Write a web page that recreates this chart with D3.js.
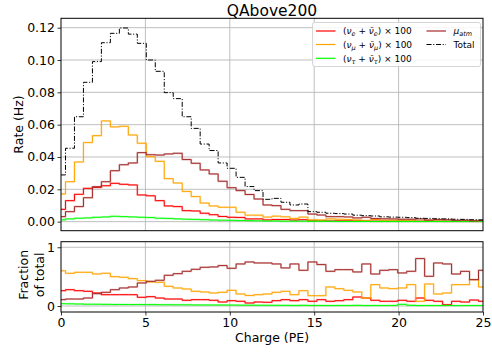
<!DOCTYPE html>
<html>
<head>
<meta charset="utf-8">
<script src="https://cdn.jsdelivr.net/npm/d3@7"></script>
<style>
  html, body { margin: 0; padding: 0; background: #fff; }
  svg { display: block; font-family: "DejaVu Sans", sans-serif; }
</style>
</head>
<body>
<svg id="chart" width="492" height="353"></svg>
<script>
// Charge bin centres (PE): 48 evenly spaced values from 0 to 25
const nBins = 48;
const charge = d3.range(nBins).map(i => i * 25 / (nBins - 1));

// Rates (Hz); neutrino rates are shown scaled by 100
const nueRate = [0.0076,0.0130,0.0169,0.0206,0.0212,0.0222,0.0237,0.0231,0.0227,0.0165,
  0.0160,0.0130,0.0097,0.0093,0.0068,0.0066,0.0052,0.0043,0.0032,0.0027,
  0.0026,0.0017,0.0017,0.0011,0.0013,0.0013,0.0010,0.0012,0.0005,0.0006,
  0.0004,0.0005,0.0005,0.0006,0.0005,0.0003,0.0003,0.0002,0.0003,0.0002,
  0.0003,0.0002,0.0002,0.0001,0.0001,0.0001,0.0001,0.0001];
const numuRate = [0.0171,0.0247,0.0369,0.0489,0.0532,0.0623,0.0586,0.0590,0.0536,0.0485,
  0.0402,0.0373,0.0266,0.0239,0.0187,0.0155,0.0115,0.0097,0.0089,0.0089,
  0.0058,0.0040,0.0040,0.0028,0.0034,0.0030,0.0020,0.0028,0.0011,0.0010,
  0.0017,0.0015,0.0013,0.0010,0.0005,0.0013,0.0009,0.0008,0.0008,0.0009,
  0.0002,0.0008,0.0004,0.0004,0.0005,0.0005,0.0005,0.0004];
const nutauRate = [0.0011,0.0017,0.0021,0.0023,0.0027,0.0029,0.0033,0.0031,0.0029,0.0027,
  0.0025,0.0021,0.0020,0.0017,0.0015,0.0014,0.0012,0.0010,0.0009,0.0008,
  0.0007,0.0006,0.0005,0.0004,0.0004,0.0003,0.0003,0.0003,0.0002,0.0002,
  0.0002,0.0001,0.0001,0.0001,0.0001,0.0001,0.0001,0.0001,0.0001,0.0001,
  0.0001,0.0001,0.0001,0.0001,0.0001,0.0001,0.0001,0.0001];
const muAtmRate = [0.0031,0.0062,0.0093,0.0148,0.0216,0.0247,0.0315,0.0352,0.0363,0.0427,
  0.0414,0.0412,0.0419,0.0423,0.0384,0.0361,0.0320,0.0295,0.0250,0.0210,
  0.0192,0.0168,0.0140,0.0103,0.0099,0.0076,0.0068,0.0068,0.0047,0.0041,
  0.0031,0.0031,0.0029,0.0023,0.0027,0.0019,0.0018,0.0017,0.0015,0.0015,
  0.0017,0.0010,0.0013,0.0012,0.0008,0.0009,0.0005,0.0007];
const totalRate = [0.0289,0.0454,0.0649,0.0862,0.0990,0.1107,0.1165,0.1198,0.1160,0.1103,
  0.1000,0.0930,0.0798,0.0761,0.0649,0.0577,0.0480,0.0440,0.0363,0.0330,
  0.0274,0.0217,0.0192,0.0138,0.0144,0.0120,0.0103,0.0109,0.0062,0.0058,
  0.0052,0.0050,0.0047,0.0040,0.0037,0.0035,0.0030,0.0028,0.0027,0.0025,
  0.0021,0.0020,0.0018,0.0017,0.0015,0.0014,0.0012,0.0011];

// Fraction of the total rate per bin
const nueFrac = [0.261,0.278,0.261,0.250,0.222,0.193,0.193,0.193,0.193,0.148,
  0.159,0.136,0.119,0.119,0.097,0.108,0.108,0.097,0.068,0.091,
  0.080,0.051,0.068,0.063,0.091,0.108,0.091,0.108,0.080,0.108,
  0.080,0.091,0.108,0.153,0.136,0.097,0.080,0.080,0.097,0.080,
  0.136,0.097,0.080,0.023,0.080,0.068,0.102,0.080];
const numuFrac = [0.600,0.557,0.574,0.574,0.546,0.557,0.500,0.489,0.466,0.432,
  0.410,0.403,0.335,0.307,0.290,0.250,0.239,0.222,0.233,0.267,
  0.205,0.180,0.193,0.205,0.233,0.250,0.193,0.261,0.176,0.176,
  0.324,0.295,0.267,0.239,0.136,0.364,0.307,0.295,0.307,0.364,
  0.080,0.375,0.205,0.222,0.364,0.364,0.449,0.324];
const nutauFrac = [0.040,0.037,0.034,0.030,0.030,0.028,0.027,0.026,0.025,0.025,
  0.024,0.023,0.022,0.021,0.020,0.019,0.018,0.017,0.017,0.016,
  0.015,0.014,0.013,0.012,0.012,0.011,0.010,0.012,0.009,0.010,
  0.008,0.010,0.009,0.011,0.008,0.010,0.009,0.010,0.028,0.012,
  0.008,0.009,0.008,0.010,0.007,0.008,0.009,0.008];
const muAtmFrac = [0.108,0.119,0.119,0.136,0.210,0.233,0.278,0.307,0.324,0.392,
  0.420,0.438,0.523,0.551,0.591,0.625,0.659,0.665,0.688,0.642,
  0.716,0.750,0.733,0.733,0.716,0.648,0.716,0.608,0.750,0.705,
  0.591,0.619,0.619,0.580,0.716,0.545,0.608,0.619,0.563,0.591,
  0.807,0.506,0.733,0.716,0.545,0.590,0.449,0.608];

const rateTicks = [0, 0.02, 0.04, 0.06, 0.08, 0.10, 0.12];
const fracTicks = [0, 1];
const chargeTicks = [0, 5, 10, 15, 20, 25];

const colors = { nue: "#ff0000", numu: "#ffa500", nutau: "#00ff00", mu: "#a52a2a", total: "#000000" };

const svg = d3.select("#chart");
const left = 61, right = 483;
const top1 = 18.3, bot1 = 230.7;
const top2 = 241.7, bot2 = 312;

const x = d3.scaleLinear().domain([0, 25]).range([left, right]);
const yRate = d3.scaleLinear().domain([-0.0056, 0.1258]).range([bot1, top1]);
const yFrac = d3.scaleLinear().domain([-0.102, 1.095]).range([bot2, top2]);

const gridColor = "#b8b8b8";

function panel(y, ticks, fmt, top, bot, showX) {
  const g = svg.append("g");
  // grid
  g.append("g").selectAll("line").data([5, 10, 15, 20]).join("line")
    .attr("x1", d => x(d)).attr("x2", d => x(d))
    .attr("y1", top).attr("y2", bot)
    .attr("stroke", gridColor).attr("stroke-width", 0.9);
  g.append("g").selectAll("line").data(ticks).join("line")
    .attr("x1", left).attr("x2", right)
    .attr("y1", d => y(d)).attr("y2", d => y(d))
    .attr("stroke", gridColor).attr("stroke-width", 0.9);
  // y axis
  const ya = d3.axisLeft(y).tickValues(ticks).tickFormat(fmt).tickSize(3.5).tickPadding(2.5);
  const yg = g.append("g").attr("transform", `translate(${left},0)`).call(ya);
  yg.select(".domain").remove();
  yg.selectAll("text").attr("font-size", 12.5).attr("fill", "#000").attr("font-family", "DejaVu Sans");
  yg.selectAll("line").attr("stroke", "#000").attr("stroke-width", 0.8);
  if (showX) {
    const xa = d3.axisBottom(x).tickValues(chargeTicks).tickFormat(d3.format("d")).tickSize(3.5).tickPadding(2.5);
    const xg = g.append("g").attr("transform", `translate(0,${bot})`).call(xa);
    xg.select(".domain").remove();
    xg.selectAll("text").attr("font-size", 12.5).attr("fill", "#000").attr("font-family", "DejaVu Sans");
    xg.selectAll("line").attr("stroke", "#000").attr("stroke-width", 0.8);
  }
  return g;
}

function frame(top, bot) {
  svg.append("rect").attr("x", left).attr("y", top)
    .attr("width", right - left).attr("height", bot - top)
    .attr("fill", "none").attr("stroke", "#000").attr("stroke-width", 1);
}

panel(yRate, rateTicks, d3.format(".2f"), top1, bot1, false);
panel(yFrac, fracTicks, d3.format("d"), top2, bot2, true);

function stepLine(y) {
  return d3.line().x((d, i) => x(charge[i])).y(d => y(d)).curve(d3.curveStep);
}

function drawSeries(values, y, color, dashed) {
  const path = stepLine(y)(values);
  if (!dashed) {
    svg.append("path").attr("d", path).attr("fill", "none")
      .attr("stroke", color).attr("stroke-opacity", 0.25).attr("stroke-width", 2.0);
    svg.append("path").attr("d", path).attr("fill", "none")
      .attr("stroke", color).attr("stroke-width", 1.0);
  } else {
    svg.append("path").attr("d", path).attr("fill", "none")
      .attr("stroke", color).attr("stroke-width", 1.0)
      .attr("stroke-dasharray", "5,1.7,1.1,1.7");
  }
}

// Rate panel
drawSeries(nueRate, yRate, colors.nue);
drawSeries(numuRate, yRate, colors.numu);
drawSeries(nutauRate, yRate, colors.nutau);
drawSeries(muAtmRate, yRate, colors.mu);
drawSeries(totalRate, yRate, colors.total, true);

// Fraction panel
drawSeries(nueFrac, yFrac, colors.nue);
drawSeries(numuFrac, yFrac, colors.numu);
drawSeries(nutauFrac, yFrac, colors.nutau);
drawSeries(muAtmFrac, yFrac, colors.mu);

frame(top1, bot1);
frame(top2, bot2);

// Title and axis labels
svg.append("text").attr("x", (left + right) / 2).attr("y", 16)
  .attr("text-anchor", "middle").attr("font-size", 15.5).text("QAbove200");
svg.append("text").attr("transform", `translate(18,${(top1 + bot1) / 2}) rotate(-90)`)
  .attr("text-anchor", "middle").attr("dominant-baseline", "central")
  .attr("font-size", 12.5).text("Rate (Hz)");
svg.append("text").attr("transform", `translate(23.5,${(top2 + bot2) / 2 - 2}) rotate(-90)`)
  .attr("text-anchor", "middle").attr("dominant-baseline", "central")
  .attr("font-size", 12.5).text("Fraction");
svg.append("text").attr("transform", `translate(39,${(top2 + bot2) / 2 - 2}) rotate(-90)`)
  .attr("text-anchor", "middle").attr("dominant-baseline", "central")
  .attr("font-size", 12.5).text("of total");
svg.append("text").attr("x", (left + right) / 2).attr("y", 342)
  .attr("text-anchor", "middle").attr("font-size", 12.5).text("Charge (PE)");

// Legend
const legend = svg.append("g");
legend.append("rect").attr("x", 312.5).attr("y", 22.5).attr("width", 168).attr("height", 44)
  .attr("rx", 2).attr("fill", "#fff").attr("fill-opacity", 0.85)
  .attr("stroke", "#cccccc").attr("stroke-width", 0.8);

const legendItems = [
  { key: "nue", col: 0, row: 0, flav: "e" },
  { key: "numu", col: 0, row: 1, flav: "μ" },
  { key: "nutau", col: 0, row: 2, flav: "τ" },
  { key: "mu", col: 1, row: 0 },
  { key: "total", col: 1, row: 1 }
];
const rowY = [31, 44.5, 58.3];
const colX = [316, 426.5];

legendItems.forEach(it => {
  const lx = colX[it.col], ly = rowY[it.row];
  const ln = legend.append("line").attr("x1", lx).attr("x2", lx + 19.5)
    .attr("y1", ly).attr("y2", ly).attr("stroke", colors[it.key]).attr("stroke-width", 1.2);
  if (it.key === "total") ln.attr("stroke-dasharray", "5,1.7,1.1,1.7");
  const t = legend.append("text").attr("x", lx + 27).attr("y", ly + 3.2).attr("font-size", 9);
  if (it.flav) {
    t.append("tspan").text("(");
    t.append("tspan").attr("font-style", "italic").text("ν");
    t.append("tspan").attr("font-size", 6.5).attr("dy", 2).attr("font-style", "italic").text(it.flav);
    t.append("tspan").attr("dy", -2).text(" + ");
    t.append("tspan").attr("font-style", "italic").text("ν\u0304");
    t.append("tspan").attr("font-size", 6.5).attr("dy", 2).attr("font-style", "italic").text(it.flav);
    t.append("tspan").attr("dy", -2).text(") × 100");
  } else if (it.key === "mu") {
    t.append("tspan").attr("font-style", "italic").text("μ");
    t.append("tspan").attr("font-size", 6.5).attr("dy", 2).attr("font-style", "italic").text("atm");
  } else {
    t.text("Total");
  }
});
</script>
</body>
</html>
